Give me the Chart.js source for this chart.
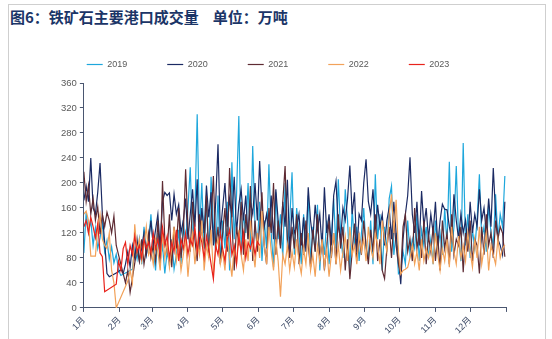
<!DOCTYPE html>
<html>
<head>
<meta charset="utf-8">
<script src="https://cdn.jsdelivr.net/npm/chart.js@4/dist/chart.umd.min.js"></script>
<style>
  body { margin: 0; background: #fff; }
  #frame { position: absolute; left: 8px; top: 4px; width: 536px; height: 340px; border: 1px solid #cfcfcf; border-bottom: none; }
  #title { position: absolute; left: 10px; top: 6px; font: bold 15px "Noto Sans CJK SC", sans-serif; color: #1b3567; white-space: nowrap; }
  #title span { margin-left: 14px; }
  #wrap { position: absolute; left: 0; top: 0; width: 552px; height: 339px; }
</style>
</head>
<body>
<div id="frame"></div>
<div id="title">图6：铁矿石主要港口成交量<span>单位：万吨</span></div>
<div id="wrap"><canvas id="portChart"></canvas></div>
<script>
// day-of-year where each month starts (last one closes the axis)
var monthStarts = [0, 31, 59, 90, 120, 151, 181, 212, 243, 273, 304, 334, 365];
var monthLabels = ['1月', '2月', '3月', '4月', '5月', '6月', '7月', '8月', '9月', '10月', '11月', '12月'];

// one value every 2 days (day 0, 2, 4 ...), null = holiday, no trading
var vol2019 = [
  88, 153, 120, 140, 100, 128, 95, 112, 135, 90, 108, 78, 98, 72, 86,
  60, 52, null, null, null, null, 62, 95, 78, 110, 70, 130, 85, 105, 150,
  95, 60, 120, 75, 100, 55, 90, 68, 110, 62, 85, 125, 70, 140, 100,
  160, 225, 110, 150, 310, 120, 200, 95, 170, 80, 210, 130, 90, 180, 75,
  140, 95, 170, 60, 233, 110, 180, 307, 85, 150, 120, 200, 90, 259, 130,
  100, 170, 75, 140, 95, 230, 120, 65, 185, 110, 150, 80, 200, 95, 140,
  217, 85, 160, 120, 70, 150, 100, 180, 75, 130, 90, 165, 60, 120, 85,
  140, 70, 110, 175, 95, 206, 120, 80, 190, 140, 60, 160, 100, 130, 75,
  120, 160, 95, 80, 140, 70, 214, 110, 150, 60, 130, 90, 175, 195, 85,
  120, 55, 60, 90, 70, 140, 85, 110, 95, 150, 75, 125, 100, 130, 80,
  110, 70, 140, 95, 120, 85, 160, 100, 234, 90, 130, 227, 110, 75, 264,
  100, 150, 80, 125, 95, 140, 214, 110, 130, 90, 165, 120, 100, 182, 110,
  150, 130, 211
];
var vol2020 = [
  172, 195, 170, 240, 160, 150, 185, 232, 150, 105, 55, 50, null, null, null,
  58, 62, 55, 70, 90, 65, 100, 80, 110, 75, 95, 120, 85, 105, 140,
  100, 125, 150, 95, 170, 185, 180, 184, 140, 182, 150, 165, 120, 140, 175,
  110, 150, 190, 130, 206, 90, 160, 120, 196, 145, 185, 100, 170, 262, 120,
  160, 200, 130, 175, 145, 210, 120, 165, 190, 140, 180, 110, 170, 150, 200,
  140, 235, 160, 130, 150, 120, 180, 110, 190, 140, 100, 170, 130, 205, 90,
  160, 120, 130, 150, 100, 145, 90, 193, 140, 110, 165, 125, 150, 95, 193,
  120, 150, 100, 180, 203, 130, 110, 160, 140, 175, 228, 150, 185, 90, 150,
  140, 200, 238, 170, 150, 190, 120, 165, 130, 150, 100, 140, 160, 110, 170,
  120, 80, 38, 110, 150, 180, 241, 150, 120, 170, 100, 187, 130, 160, 110,
  150, 120, 170, 100, 140, 166, 158, 157, 130, 110, 182, 140, 110, 150, 120,
  140, 100, 170, 120, 150, 130, 190, 140, 160, 120, 175, 130, 224, 150, 110,
  100, 85, 170
];
var vol2021 = [
  218, 170, 196, 150, 175, 140, 162, 118, 150, 130, 153, 140, 120, 147, 100,
  85, 70, 55, 40, 60, 25, null, null, 95, 75, 110, 70, 95, 120, 80,
  100, 75, 140, 70, 203, 110, 90, 150, 65, 130, 95, 160, 80, 120, 222,
  130, 90, 170, 110, 75, 150, 120, 100, 180, 85, 140, 211, 95, 130, 70,
  120, 160, 90, 224, 140, 60, 130, 100, 170, 85, 150, 110, 195, 75, 140,
  90, 130, 185, 100, 70, 160, 120, 200, 85, 140, 95, 170, 227, 110, 80,
  130, 95, 150, 70, 120, 85, 140, 100, 65, 125, 90, 150, 75, 110, 60,
  100, 140, 80, 120, 70, 150, 95, 130, 60, 110, 46, 90, 135, 75, 115,
  85, 140, 100, 70, 125, 90, 150, 75, 110, 60, 47, 95, 130, 80, 140,
  100, 70, 55, 130, 150, 90, 110, 75, 160, 95, 120, 80, 140, 70, 115,
  90, 130, 75, 115, 60, 140, 95, 120, 70, 150, 85, 110, 100, 130, 57,
  120, 90, 140, 75, 110, 100, 55, 130, 85, 150, 100, 120, 80, 140, 110,
  130, 120, 82
];
var vol2022 = [
  150, 155, 140, 83, 83, 83, 130, 150, 110, 100, 95, 120, 60, 40, 0,
  null, null, null, null, 43, 60, 40, 134, 90, 110, 75, 100, 130, 85, 95,
  70, 110, 90, 60, 120, 80, 105, 65, 95, 130, 75, 100, 60, 85, 110,
  50, 95, 120, 70, 105, 85, 140, 60, 100, 80, 125, 55, 95, 110, 70,
  90, 60, 115, 80, 50, 100, 70, 125, 85, 60, 110, 75, 140, 95, 65,
  120, 80, 155, 100, 70, 130, 90, 60, 110, 75, 18, 85, 70, 100, 60,
  90, 65, 110, 75, 55, 95, 70, 120, 60, 85, 50, 100, 75, 110, 65,
  95, 50, 85, 120, 70, 100, 60, 90, 115, 75, 130, 85, 100, 70, 120,
  90, 110, 75, 130, 95, 80, 120, 100, 70, 140, 110, 90, 150, 182, 120,
  173, 90, 54, 60, 62, 65, 80, 100, 70, 90, 60, 110, 75, 95, 80,
  100, 70, 120, 85, 60, 95, 75, 110, 65, 130, 90, 70, 115, 80, 100,
  75, 120, 90, 65, 110, 80, 130, 70, 95, 120, 60, 100, 85, 70, 110,
  80, 95, 101
];
var vol2023 = [
  130, 140, 120, 145, 130, 112, 135, 88, 82, 26, null, null, null, null, 38,
  75, 60, 95, 105, 70, 100, 85, 115, 90, 100, 80, 110, 95, 105, 88,
  120, 95, 110, 85, 129, 100, 115, 80, 105, 90, 125, 75, 110, 95, 120,
  85, 110, 100, 130, 90, 120, 105, 80, 115, 95, 70, 46, 100, 85, 120,
  95, 75, 110, 125, 85, 100, 70, 115, 90, 120, 80, 105, 95, 110, 85,
  106, 100
];

function toPoints(values) {
  return values.map(function (v, i) { return { x: i * 2, y: v }; });
}

function series(label, values, color, order) {
  return {
    label: label,
    data: toPoints(values),
    borderColor: color,
    backgroundColor: color,
    borderWidth: 1.2,
    pointRadius: 0,
    pointStyle: 'line',
    tension: 0,
    spanGaps: true,
    order: order
  };
}

// a little more room under the legend, and the legend sits a bit left of centre
var legendPlace = {
  id: 'legendPlace',
  beforeLayout: function (chart) {
    var lg = chart.legend;
    if (lg && !lg._padded) {
      var fit = lg.fit;
      lg.fit = function () { fit.call(this); this.height += 4; };
      lg._padded = true;
    }
  },
  afterLayout: function (chart) {
    chart.legend.left -= 14;
    chart.legend.right -= 14;
  }
};

var axisColor = '#4a5670';
Chart.defaults.font.family = '"Liberation Sans", "Noto Sans CJK SC", sans-serif';

var ctx = document.getElementById('portChart').getContext('2d');
var portChart = new Chart(ctx, {
  type: 'line',
  data: {
    datasets: [
      series('2019', vol2019, '#1ea7dc', 4),
      series('2020', vol2020, '#1b2a63', 3),
      series('2021', vol2021, '#5e2b33', 2),
      series('2022', vol2022, '#f2a25a', 1),
      series('2023', vol2023, '#e8231c', 0)
    ]
  },
  plugins: [legendPlace],
  options: {
    responsive: true,
    maintainAspectRatio: false,
    animation: false,
    layout: { padding: { top: 20, left: 58, right: 46, bottom: 0 } },
    plugins: {
      tooltip: { enabled: false },
      legend: {
        position: 'top',
        labels: {
          usePointStyle: true,
          pointStyleWidth: 16,
          boxHeight: 6,
          padding: 40,
          color: '#595959',
          font: { size: 9 },
          sort: function (a, b) { return a.datasetIndex - b.datasetIndex; }
        }
      }
    },
    scales: {
      x: {
        type: 'linear',
        min: 0,
        max: 365,
        afterBuildTicks: function (axis) {
          axis.ticks = monthStarts.map(function (v) { return { value: v }; });
        },
        ticks: {
          autoSkip: false,
          maxRotation: 45,
          minRotation: 45,
          color: '#3d4a66',
          font: { size: 9 },
          callback: function (v) { return monthLabels[monthStarts.indexOf(v)] || ''; }
        },
        grid: { drawOnChartArea: false, tickLength: 4, color: axisColor },
        border: { color: axisColor }
      },
      y: {
        min: 0,
        max: 360,
        ticks: { stepSize: 40, color: '#595959', font: { size: 9.5 }, padding: 3 },
        grid: { drawOnChartArea: false, tickLength: 4, color: axisColor },
        border: { color: axisColor }
      }
    }
  }
});
</script>
</body>
</html>
